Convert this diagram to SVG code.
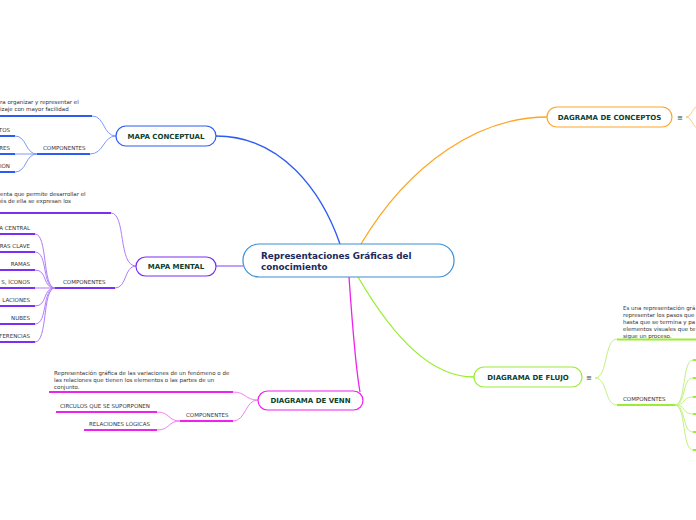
<svg xmlns="http://www.w3.org/2000/svg" width="696" height="520" viewBox="0 0 696 520">
<style>
text{font-family:"DejaVu Sans","Verdana",sans-serif;}
.main{font-size:8.8px;font-weight:bold;fill:#1b2a5c;}
.topic{font-size:7px;font-weight:bold;fill:#0d3f2f;text-anchor:middle;}
.sm{font-size:5.5px;fill:#333;}
.smr{font-size:5.5px;fill:#333;text-anchor:end;}
.menu{font-size:7px;fill:#1d4a3a;}
.cb{stroke:#7d9cf8;fill:none;stroke-width:1;}
.cp{stroke:#b17ef8;fill:none;stroke-width:1;}
.cm{stroke:#f47ef4;fill:none;stroke-width:1;}
.cg{stroke:#c2f27e;fill:none;stroke-width:1;}
.co{stroke:#ffc97e;fill:none;stroke-width:1;}
.ub{stroke:#2d5cf2;stroke-width:2;}
.up{stroke:#7b2ff2;stroke-width:2;}
.um{stroke:#ee22ee;stroke-width:2;}
.ug{stroke:#99ee33;stroke-width:2;}
</style>
<rect width="696" height="520" fill="#ffffff"/>
<g id="connectors">
  <path d="M340,244 C 322,192 282,136 216,136" stroke="#2d5cf2" stroke-width="1.3" fill="none"/>
  <path d="M215,266 L243,266" stroke="#9d6cf5" stroke-width="1.3" fill="none"/>
  <path d="M361,244 C 410,162 480,117 547,117" stroke="#ffa524" stroke-width="1.3" fill="none"/>
  <path d="M358,277 C 395,340 432,377 474,377" stroke="#99ee33" stroke-width="1.3" fill="none"/>
  <path d="M349,277 C 352,320 356,370 360,392" stroke="#ee22ee" stroke-width="1.3" fill="none"/>
  <path class="cb" d="M116,136 C 103,136 105,116 92,116"/>
  <path class="cb" d="M116,136 C 103,136 104,154 90,154"/>
  <path class="cb" d="M37,154 C 25,154 27,136 15,136"/>
  <path class="cb" d="M37,154 L15,154"/>
  <path class="cb" d="M37,154 C 25,154 27,172 15,172"/>
  <path class="cp" d="M136,266 C 118,266 126,213 111,213"/>
  <path class="cp" d="M136,266 C 124,266 127,288 115,288"/>
  <path class="cp" d="M55,288 C 42,288 48,234 35,234"/>
  <path class="cp" d="M55,288 C 42,288 48,252 35,252"/>
  <path class="cp" d="M55,288 C 42,288 48,270 35,270"/>
  <path class="cp" d="M55,288 L35,288"/>
  <path class="cp" d="M55,288 C 42,288 48,306 35,306"/>
  <path class="cp" d="M55,288 C 42,288 48,324 35,324"/>
  <path class="cp" d="M55,288 C 42,288 48,342 35,342"/>
  <path class="cm" d="M258,400 C 245,400 246,392 233,392"/>
  <path class="cm" d="M258,400 C 245,400 246,421 233,421"/>
  <path class="cm" d="M180,421 C 168,421 170,412 157,412"/>
  <path class="cm" d="M180,421 C 168,421 170,430 157,430"/>
  <path class="co" d="M686,117 C 692,117 692,107 700,104"/>
  <path class="co" d="M686,117 C 692,117 692,127 700,130"/>
  <path class="cg" d="M595,378 C 608,378 604,339 617,339"/>
  <path class="cg" d="M595,378 C 608,378 604,405 617,405"/>
  <path class="cg" d="M675,405 C 686,405 682,360 693,360"/>
  <path class="cg" d="M675,405 C 686,405 682,378 693,378"/>
  <path class="cg" d="M675,405 C 686,405 682,397 693,397"/>
  <path class="cg" d="M675,405 C 686,405 682,414 693,414"/>
  <path class="cg" d="M675,405 C 686,405 682,432 693,432"/>
  <path class="cg" d="M675,405 C 686,405 682,450 693,450"/>
</g>
<g id="central">
  <rect x="243" y="244" width="211" height="33" rx="16" fill="#fff" stroke="#3b8fd4" stroke-width="1.2"/>
  <text class="main" x="261" y="259">Representaciones Gráficas del</text>
  <text class="main" x="261" y="270">conocimiento</text>
</g>
<g id="mapa-conceptual">
  <rect x="116" y="126" width="100" height="20" rx="10" fill="#fff" stroke="#2d5cf2" stroke-width="1.2"/>
  <text class="topic" x="166" y="139">MAPA CONCEPTUAL</text>
</g>
<g id="mc-desc">
  <text class="sm" x="0" y="104">ra organizar y representar el</text>
  <text class="sm" x="0" y="111">izaje con mayor facilidad</text>
  <line class="ub" x1="0" y1="116" x2="92" y2="116"/>
</g>
<g id="mc-componentes">
  <text class="sm" x="43" y="150">COMPONENTES</text>
  <line class="ub" x1="37" y1="154" x2="90" y2="154"/>
</g>
<g id="mc-c1"><text class="smr" x="10" y="132">TOS</text><line class="ub" x1="0" y1="136" x2="15" y2="136"/></g>
<g id="mc-c2"><text class="smr" x="10" y="150">RES</text><line class="ub" x1="0" y1="154" x2="15" y2="154"/></g>
<g id="mc-c3"><text class="smr" x="10" y="168">IÓN</text><line class="ub" x1="0" y1="172" x2="15" y2="172"/></g>

<g id="mapa-mental">
  <rect x="136" y="257" width="80" height="19" rx="9.5" fill="#fff" stroke="#7b2ff2" stroke-width="1.2"/>
  <text class="topic" x="176" y="269">MAPA MENTAL</text>
</g>
<g id="mm-desc">
  <text class="sm" x="0" y="196">enta que permite desarrollar el</text>
  <text class="sm" x="0" y="203">és de ella se expresan los</text>
  <line class="up" x1="0" y1="213" x2="111" y2="213"/>
</g>
<g id="mm-componentes">
  <text class="sm" x="63" y="284">COMPONENTES</text>
  <line class="up" x1="55" y1="288" x2="115" y2="288"/>
</g>
<g id="mm-c1"><text class="smr" x="30" y="230">A CENTRAL</text><line class="up" x1="0" y1="234" x2="35" y2="234"/></g>
<g id="mm-c2"><text class="smr" x="30" y="248">RAS CLAVE</text><line class="up" x1="0" y1="252" x2="35" y2="252"/></g>
<g id="mm-c3"><text class="smr" x="30" y="266">RAMAS</text><line class="up" x1="0" y1="270" x2="35" y2="270"/></g>
<g id="mm-c4"><text class="smr" x="30" y="284">S, ÍCONOS</text><line class="up" x1="0" y1="288" x2="35" y2="288"/></g>
<g id="mm-c5"><text class="smr" x="30" y="302">LACIONES</text><line class="up" x1="0" y1="306" x2="35" y2="306"/></g>
<g id="mm-c6"><text class="smr" x="30" y="320">NUBES</text><line class="up" x1="0" y1="324" x2="35" y2="324"/></g>
<g id="mm-c7"><text class="smr" x="30" y="338">FERENCIAS</text><line class="up" x1="0" y1="342" x2="35" y2="342"/></g>

<g id="diagrama-venn">
  <rect x="258" y="391" width="105" height="19" rx="9.5" fill="#fff" stroke="#ee22ee" stroke-width="1.2"/>
  <text class="topic" x="310.5" y="403">DIAGRAMA DE VENN</text>
</g>
<g id="dv-desc">
  <text class="sm" x="54" y="375">Representación gráfica de las variaciones de un fenómeno o de</text>
  <text class="sm" x="54" y="382">las relaciones que tienen los elementos o las partes de un</text>
  <text class="sm" x="54" y="389">conjunto.</text>
  <line class="um" x1="49" y1="392" x2="233" y2="392"/>
</g>
<g id="dv-componentes">
  <text class="sm" x="186" y="417">COMPONENTES</text>
  <line class="um" x1="180" y1="421" x2="233" y2="421"/>
</g>
<g id="dv-c1"><text class="sm" x="60" y="408">CIRCULOS QUE SE SUPORPONEN</text><line class="um" x1="56" y1="412" x2="157" y2="412"/></g>
<g id="dv-c2"><text class="sm" x="89" y="426">RELACIONES LÓGICAS</text><line class="um" x1="84" y1="430" x2="157" y2="430"/></g>

<g id="dagrama-conceptos">
  <rect x="547" y="107" width="125" height="20" rx="10" fill="#fff" stroke="#ffa524" stroke-width="1.2"/>
  <text class="topic" x="609.5" y="120">DAGRAMA DE CONCEPTOS</text>
  <text class="menu" x="677" y="120">≡</text>
</g>

<g id="diagrama-flujo">
  <rect x="474" y="367" width="108" height="20" rx="10" fill="#fff" stroke="#99ee33" stroke-width="1.2"/>
  <text class="topic" x="528" y="380">DIAGRAMA DE FLUJO</text>
  <text class="menu" x="586" y="380">≡</text>
</g>
<g id="df-desc">
  <text class="sm" x="623" y="310">Es una representación grá</text>
  <text class="sm" x="623" y="317">representar los pasos que</text>
  <text class="sm" x="623" y="324">hasta que se termina y pa</text>
  <text class="sm" x="623" y="331">elementos visuales que te</text>
  <text class="sm" x="623" y="338">sigue un proceso.</text>
  <line class="ug" x1="617" y1="339.5" x2="696" y2="339.5"/>
</g>
<g id="df-componentes">
  <text class="sm" x="623" y="401">COMPONENTES</text>
  <line class="ug" x1="617" y1="405" x2="675" y2="405"/>
</g>
<g id="df-c1"><line class="ug" x1="693" y1="360" x2="696" y2="360"/></g>
<g id="df-c2"><line class="ug" x1="693" y1="378" x2="696" y2="378"/></g>
<g id="df-c3"><line class="ug" x1="693" y1="397" x2="696" y2="397"/></g>
<g id="df-c4"><line class="ug" x1="693" y1="414" x2="696" y2="414"/></g>
<g id="df-c5"><line class="ug" x1="693" y1="432" x2="696" y2="432"/></g>
<g id="df-c6"><line class="ug" x1="693" y1="450" x2="696" y2="450"/></g>
</svg>
